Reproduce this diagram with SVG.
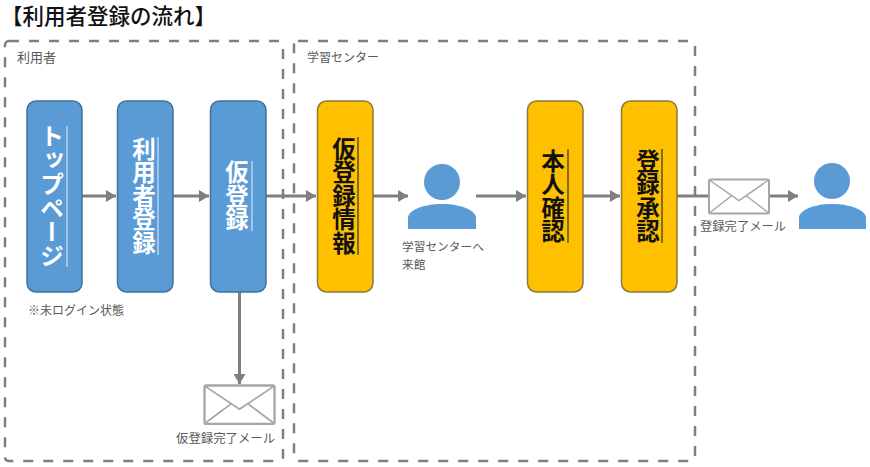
<svg xmlns="http://www.w3.org/2000/svg" width="870" height="467" viewBox="0 0 870 467">
<style>
text{font-family:"Noto Sans CJK JP","Noto Sans",sans-serif}
.lbl{font-size:12px;fill:#595959}
.title{font-size:21.500px;fill:#111;font-weight:500}
.region{fill:none;stroke:#7f7f7f;stroke-width:2.5;stroke-dasharray:10 10}
.blue{fill:#5b9bd5;stroke:#41719c;stroke-width:1.5}
.yellow{fill:#ffc000;stroke:#8a7a3a;stroke-width:1.5}
.vw{writing-mode:vertical-rl;text-anchor:middle;font-weight:700;fill:#fff}
.vb{writing-mode:vertical-rl;text-anchor:middle;font-weight:700;fill:#111}
.ulw{stroke:#cfe2f5;stroke-width:1.2}
.ulb{stroke:#333;stroke-width:1.2}
.conn{stroke:#7f7f7f;stroke-width:3;fill:none;marker-end:url(#a)}
.env{fill:#fff;stroke:#a6a6a6;stroke-width:2}
.envl{fill:none;stroke:#a6a6a6;stroke-width:1.5}
.person{fill:#5b9bd5}
</style>
<defs>
<marker id="a" markerUnits="userSpaceOnUse" markerWidth="11" markerHeight="12" refX="10" refY="6" orient="auto"><path d="M0 0L10 6L0 12z" fill="#7f7f7f"/></marker>
<g id="envshape">
<rect class="env" x="0" y="0" width="60" height="34" rx="1.5"/>
<path class="envl" d="M1 1L30 21L59 1M1 33L23 16M59 33L37 16"/>
</g>
</defs>
<rect width="870" height="467" fill="#fff"/>
<text class="title" x="1" y="24">【利用者登録の流れ】</text>
<g id="region-user"><rect class="region" x="5" y="41" width="278" height="420" rx="4"/><text class="lbl" x="17" y="62" style="font-size:13px">利用者</text></g>
<g id="region-center"><rect class="region" x="294" y="41" width="401" height="420" rx="4"/><text class="lbl" x="307" y="62">学習センター</text></g>
<g id="connectors">
<path class="conn" d="M82 196H116"/>
<path class="conn" d="M173 196H209"/>
<path class="conn" d="M266 196H316"/>
<path class="conn" d="M373 196H408"/>
<path class="conn" d="M476 196H526"/>
<path class="conn" d="M583 196H620"/>
<path class="conn" style="marker-end:none" d="M677 196H709"/>
<path class="conn" d="M768 196H798"/>
<path class="conn" d="M239.500 292V384"/>
</g>
<g id="top"><rect class="blue" x="27" y="101" width="55" height="191" rx="9"/><text class="vw" x="52" y="196" style="font-size:24px">トップページ</text><line class="ulw" x1="67" y1="126" x2="67" y2="267"/></g>
<g id="register"><rect class="blue" x="117.500" y="101" width="55.500" height="191" rx="9"/><text class="vw" x="144" y="196" style="font-size:23.500px">利用者登録</text><line class="ulw" x1="158" y1="137" x2="158" y2="255"/></g>
<g id="temp"><rect class="blue" x="210.500" y="101" width="55.500" height="191" rx="9"/><text class="vw" x="237" y="196" style="font-size:23.500px">仮登録</text><line class="ulw" x1="252" y1="161" x2="252" y2="231"/></g>
<g id="tempinfo"><rect class="yellow" x="317.500" y="101" width="55.500" height="191" rx="9"/><text class="vb" x="344" y="196" style="font-size:23.500px">仮登録情報</text><line class="ulb" x1="358" y1="137" x2="358" y2="255"/></g>
<g id="identity"><rect class="yellow" x="527.500" y="101" width="55.500" height="191" rx="9"/><text class="vb" x="553" y="196" style="font-size:23.500px">本人確認</text><line class="ulb" x1="568" y1="149" x2="568" y2="243"/></g>
<g id="approve"><rect class="yellow" x="621.500" y="101" width="55.500" height="191" rx="9"/><text class="vb" x="648" y="196" style="font-size:23.500px">登録承認</text><line class="ulb" x1="662" y1="149" x2="662" y2="243"/></g>
<g id="person1"><circle class="person" cx="442" cy="182" r="18"/><path class="person" d="M408 229V218C408 210 424 204 442 204S476 210 476 218V229Z"/><text class="lbl" x="402" y="251" style="font-size:11.700px">学習センターへ</text><text class="lbl" x="402" y="269" style="font-size:11.700px">来館</text></g>
<g id="person2"><circle class="person" cx="832" cy="181" r="18"/><path class="person" d="M799 229V218C799 210 814 204 832 204S866 210 866 218V229Z"/></g>
<g id="mail1"><use href="#envshape" transform="translate(204.500 385.500) scale(1.167 1.130)"/><text class="lbl" x="176" y="443" style="font-size:12.400px">仮登録完了メール</text></g>
<g id="mail2"><use href="#envshape" transform="translate(709 179.500)"/><text class="lbl" x="700" y="231" style="font-size:12.300px">登録完了メール</text></g>
<text class="lbl" x="28" y="315">※未ログイン状態</text>
</svg>
